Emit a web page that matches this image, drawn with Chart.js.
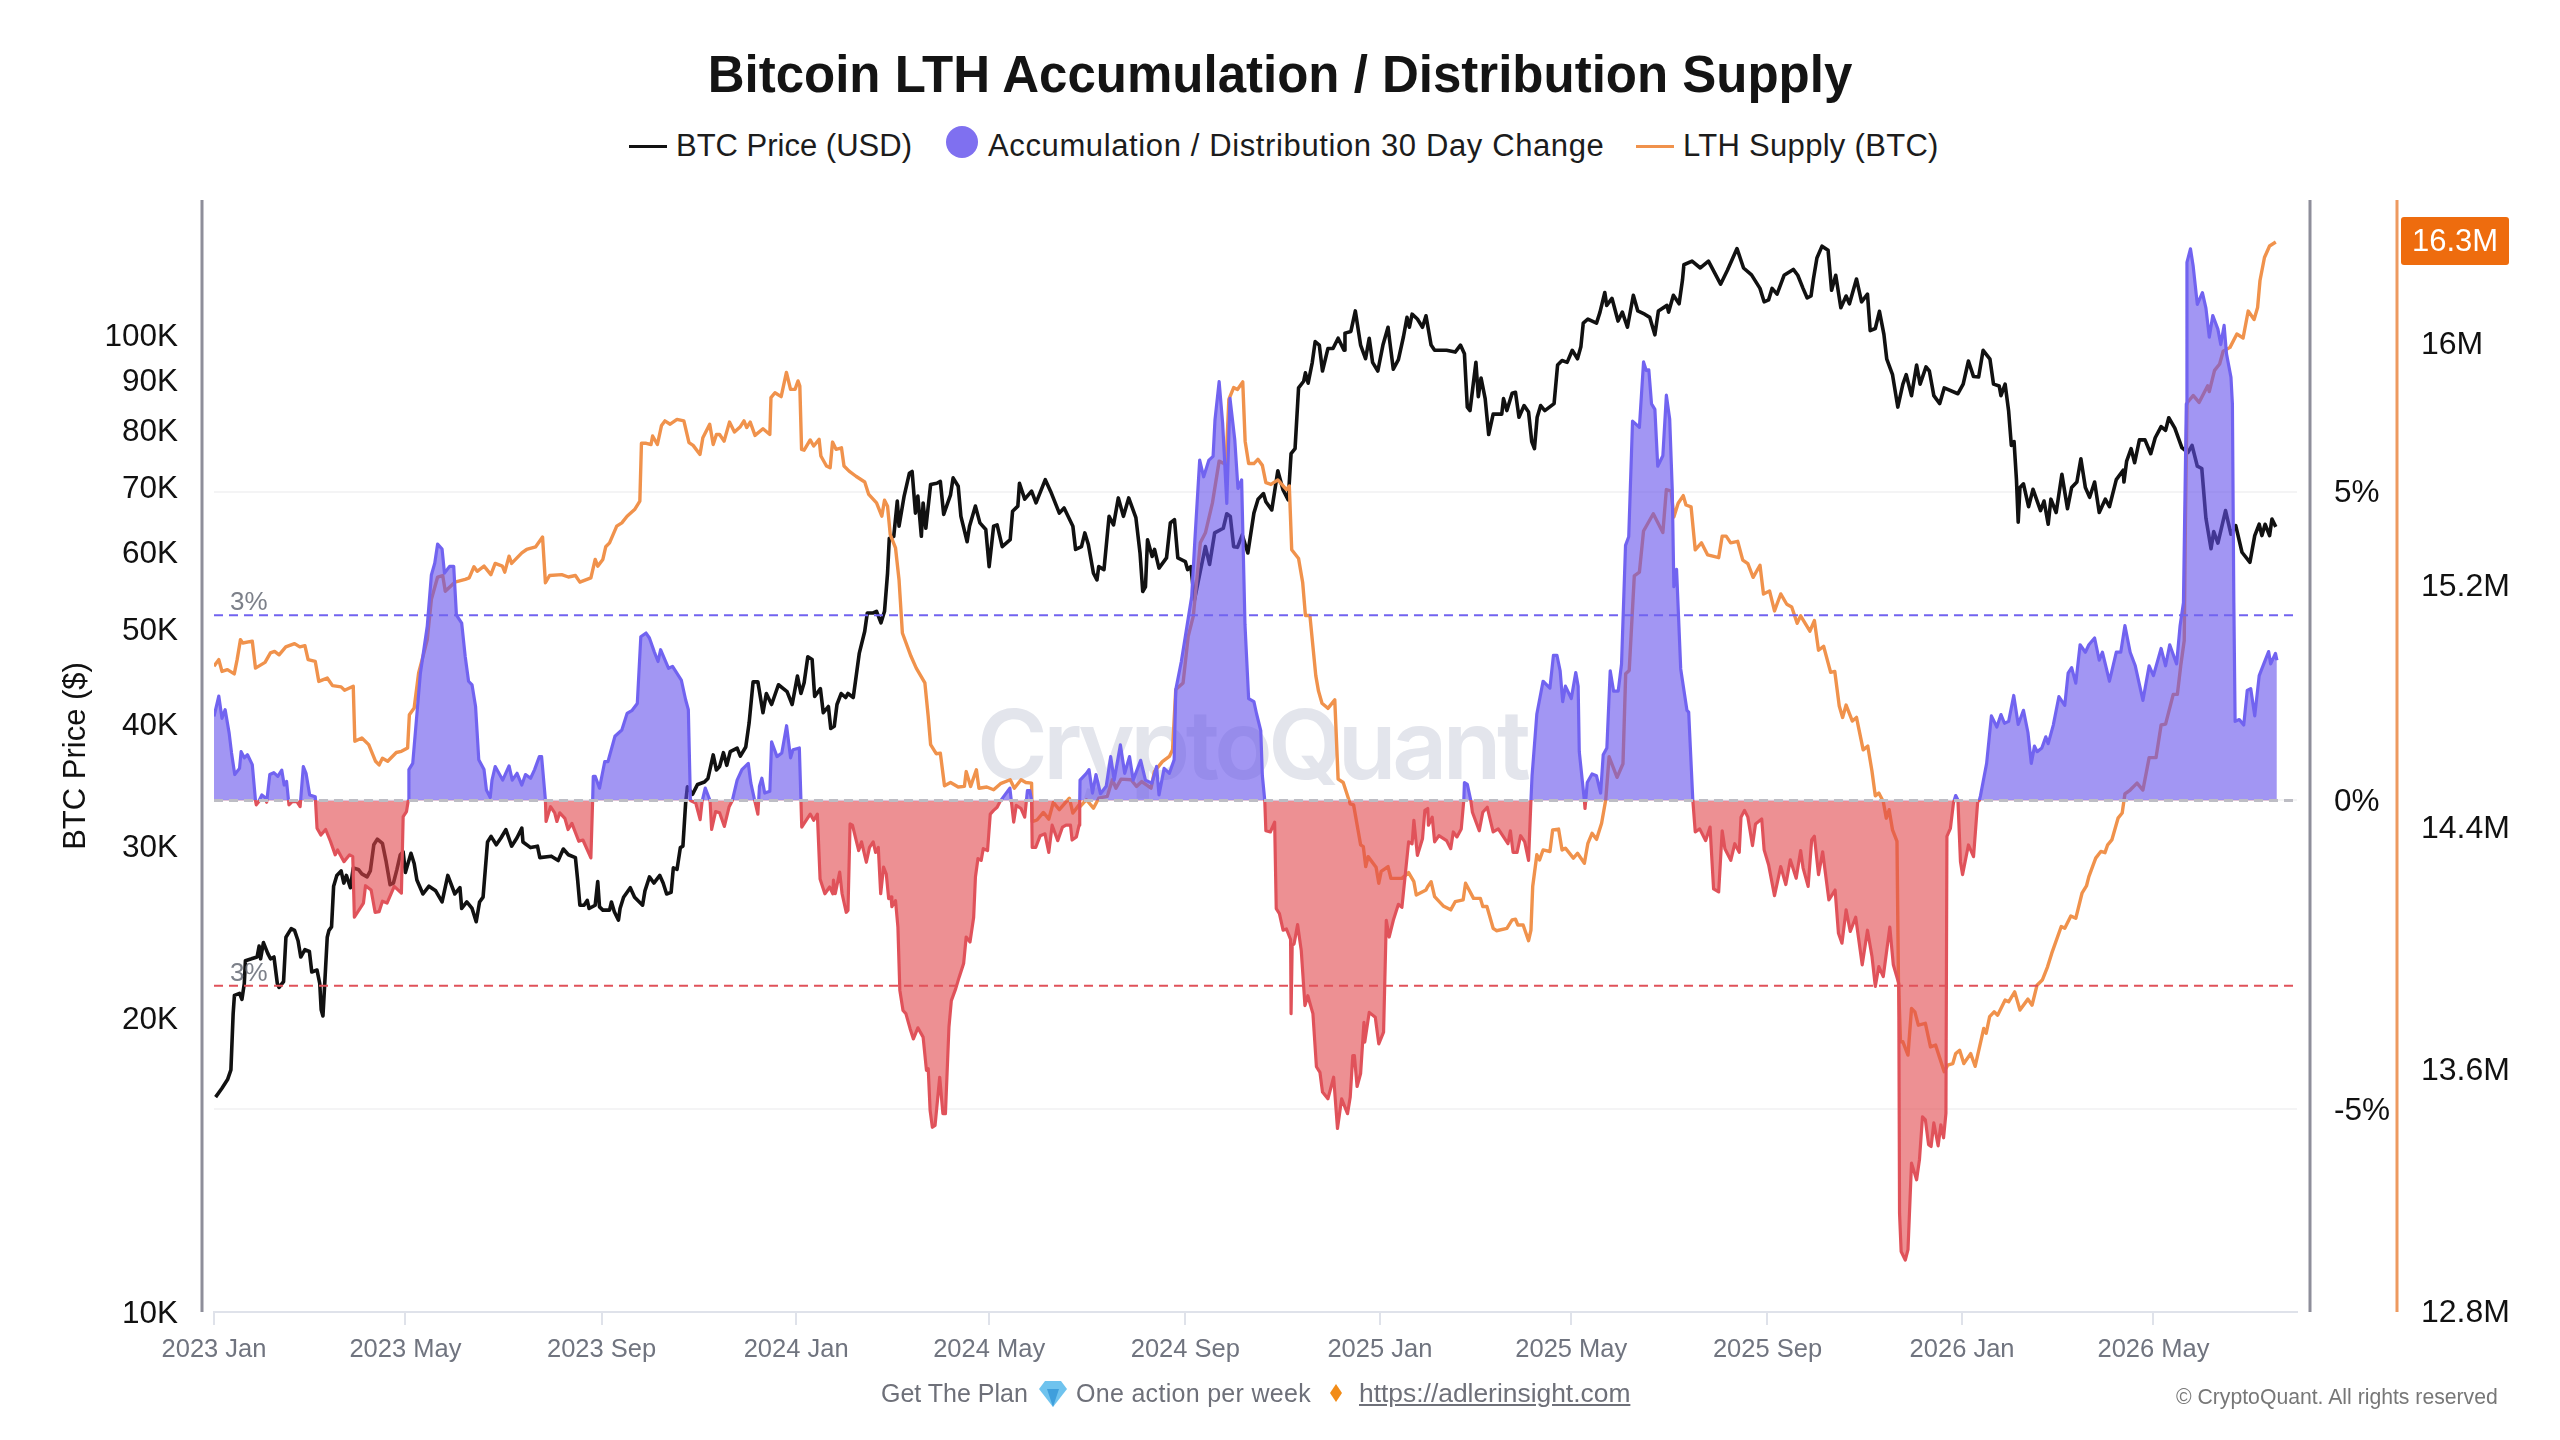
<!DOCTYPE html>
<html lang="en">

<head>
    <meta charset="utf-8">
    <title>Bitcoin LTH Accumulation / Distribution Supply</title>
    <style>
        body { margin: 0; background: #fff; font-family: "Liberation Sans", Arial, sans-serif; overflow: hidden; }
        #chart { position: absolute; left: 0; top: 0; }
        .txt { position: absolute; white-space: nowrap; }
        #title { left: 0; width: 2560px; text-align: center; top: 45px; font-size: 51px; line-height: 60px; font-weight: 700; color: #141414; }
        .legend { top: 127px; font-size: 31px; line-height: 38px; color: #1c1c1c; }
        .mark { position: absolute; height: 3px; }
        #watermark { left: 977px; top: 674px; font-family: Inter, sans-serif; font-size: 96px; line-height: 140px; font-weight: 600; color: #e3e5ec; letter-spacing: -4.5px; }
        .foot { top: 1378px; font-size: 25px; line-height: 30px; color: #6e7079; }
        #copy { left: 2176px; top: 1384px; font-size: 21.2px; line-height: 26px; color: #777; }
    </style>
    <script src="https://cdn.jsdelivr.net/npm/chart.js@4/dist/chart.umd.js"></script>
</head>

<body>
    <div class="txt" id="title">Bitcoin LTH Accumulation / Distribution Supply</div>

    <div class="mark" style="left:629px;top:145px;width:38px;background:#111"></div>
    <div class="txt legend" style="left:676px">BTC Price (USD)</div>
    <div class="mark" style="left:946px;top:126px;width:32px;height:32px;border-radius:50%;background:#7f70f0"></div>
    <div class="txt legend" style="left:988px;letter-spacing:.62px">Accumulation / Distribution 30 Day Change</div>
    <div class="mark" style="left:1636px;top:145px;width:38px;background:#f0924c"></div>
    <div class="txt legend" style="left:1683px;letter-spacing:.3px">LTH Supply (BTC)</div>

    <div class="txt" id="watermark">CryptoQuant</div>
    <canvas id="chart" width="2560" height="1440"></canvas>

    <div class="txt foot" style="left:881px">Get The Plan</div>
    <svg style="position:absolute;left:1038px;top:1378px" width="30" height="30" viewBox="0 0 30 30">
        <polygon points="7,3 23,3 29,11 15,29 1,11" fill="#6fc3ee"/>
        <polygon points="9,11 21,11 15,29" fill="#3f9fdc"/>
    </svg>
    <div class="txt foot" style="left:1076px;letter-spacing:.3px">One action per week</div>
    <svg style="position:absolute;left:1329px;top:1384px" width="14" height="18" viewBox="0 0 14 18">
        <polygon points="7,0 13,9 7,18 1,9" fill="#f28c18"/>
    </svg>
    <div class="txt foot" style="left:1359px;font-size:26.4px;text-decoration:underline">https://adlerinsight.com</div>
    <div class="txt" id="copy">© CryptoQuant. All rights reserved</div>

    <script>
        // x positions are days counted from 2023-01-01
        const xTickDays = [0, 120, 243, 365, 486, 609, 731, 851, 974, 1096, 1216];
        const xTickLabels = ['2023 Jan', '2023 May', '2023 Sep', '2024 Jan', '2024 May', '2024 Sep', '2025 Jan', '2025 May', '2025 Sep', '2026 Jan', '2026 May'];
        const xLastDay = 1306;

        const priceTicks = [10, 20, 30, 40, 50, 60, 70, 80, 90, 100];
        const pctTicks = [-5, 0, 5];
        const supplyTicks = [12.8, 13.6, 14.4, 15.2, 16];

        const upperBand = [3, 3];
        const lowerBand = [-3, -3];
        const zeroBand = [0, 0];

        // BTC price, thousands of USD
        const priceDays = [
            1, 5, 8.5, 10.6, 12, 12.8, 16, 17.5, 19, 19.7,
            23.5, 27, 28.3, 29.2, 31, 33.7, 35.4, 37.6, 39.7, 40.8,
            43.6, 45.1, 48.4, 50.5, 52.7, 54.4, 57, 59.8, 61.3, 64.6,
            66.3, 67.2, 68.3, 69.3, 71, 72.1, 73.7, 75, 77, 79.7,
            81.4, 83, 85.5, 87.3, 90.5, 92.7, 96, 98, 100.2, 102.4,
            105.6, 107.8, 110.4, 112.5, 114.7, 116.8, 118.6, 120, 123.5, 125.5,
            127.2, 131, 134.8, 139, 143, 146.6, 151, 154.2, 155.3, 158.5,
            161.8, 164.4, 166.5, 168.7, 171.5, 173.7, 177, 180, 183, 186.6,
            190, 193, 193.7, 198.5, 202.8, 204.3, 211.5, 215.8, 219, 222.2,
            226.6, 228, 229.4, 232, 234, 235.2, 239, 240.6, 241.7, 243.8,
            248, 249.2, 251, 253.6, 254.6, 256.8, 261, 263.7, 268.7, 270.2,
            273, 275.8, 279.5, 281.6, 283.8, 286.6, 288, 290.3, 292.4, 294,
            295.7, 296.8, 300, 303.2, 307.5, 309.7, 313, 315, 317, 319.4,
            321.5, 323.7, 328, 330, 333.4, 335.5, 338, 341, 344.2, 346.3,
            349.6, 353.9, 359.3, 362.5, 365.8, 368, 370, 372.3, 375, 376.6,
            380.2, 382, 385.2, 386.7, 388.9, 390.6, 393.2, 396, 397.5, 400.8,
            404.6, 408, 409.6, 413.3, 415.4, 418.2, 420.4, 422.3, 423.4, 426.2,
            428.4, 429.5, 432.7, 436, 437.7, 439.8, 441.3, 443.5, 444.6, 446.3,
            449.3, 453.2, 455.4, 457.5, 461.8, 463.4, 466.6, 468.3, 472.2, 473.7,
            477.4, 480.2, 483.9, 486, 488.8, 491, 494.2, 499.2, 500.7, 504,
            505, 508.3, 512.6, 515.4, 521.2, 524.5, 530, 533, 538.5, 540.2,
            543.9, 546, 548.2, 551.4, 553.6, 554.7, 558, 561.2, 564, 567,
            570.2, 573.5, 578, 580.6, 582.3, 584, 585.3, 588.2, 589.7, 592.5,
            597.2, 599.6, 602.2, 604.3, 609, 610.4, 612.5, 614.7, 618.4, 621.6,
            624.2, 627.4, 632.8, 635, 637.2, 639.3, 641.7, 644.7, 648.2, 652,
            654.6, 658, 659.5, 663.2, 667, 670.3, 673.5, 675.3, 677.8, 680,
            683.2, 684.3, 686, 688.6, 690.4, 693, 695, 698.4, 701.6, 704.8,
            708.5, 709.1, 712.8, 715.6, 718.9, 722, 724.3, 726.4, 729.7, 732.9,
            736.1, 737.2, 739.4, 742.6, 745.8, 748, 749.5, 751.2, 754.5, 757.7,
            759.9, 763.1, 765.3, 772.8, 778.2, 781.5, 784, 785.8, 787.5, 791.2,
            792.7, 794.4, 797, 799.2, 802, 807.4, 808.5, 810.6, 813.9, 816,
            818.2, 821.4, 824.2, 826.2, 827.9, 829.6, 831.8, 834.4, 840.2, 842.4,
            845.2, 848.4, 851.6, 854.9, 857, 858.5, 861.4, 866.8, 869, 872,
            873.2, 876.5, 880.3, 883, 886.2, 889.9, 892.7, 897, 900.2, 903.4,
            905.6, 911, 912, 915, 918.6, 920.7, 921.6, 926.7, 931.9, 937,
            944.6, 948.8, 954.9, 959, 964, 969.3, 971.9, 974.7, 976.9, 980,
            984.4, 990.2, 993, 996.3, 998.9, 1001.3, 1002.8, 1005, 1008.2, 1012,
            1014.2, 1016.8, 1020, 1023.3, 1025.4, 1029.8, 1033, 1036.7, 1038.4, 1041.6,
            1044.2, 1047, 1048.8, 1052.4, 1055.7, 1058.9, 1061, 1064.3, 1067.5, 1069.7,
            1073.4, 1075.5, 1078.3, 1082, 1084.8, 1093.4, 1096.7, 1100, 1103.2, 1106.4,
            1109.2, 1113.5, 1115.7, 1119.3, 1120.4, 1123, 1125.2, 1126.9, 1128.6, 1130.1,
            1131.2, 1132.3, 1134.5, 1137.7, 1140.5, 1145.2, 1147.4, 1150, 1151.7, 1155,
            1158.6, 1162.1, 1164.7, 1168, 1170.5, 1173.3, 1176, 1179.1, 1182, 1185.8,
            1188.4, 1192.7, 1197, 1197.5, 1199.2, 1202, 1204.2, 1207.2, 1210.7, 1214.3,
            1217.1, 1220.8, 1223.6, 1225.6, 1229.4, 1233.8, 1237.6, 1240.2, 1243.5, 1246.3,
            1248.9, 1252.1, 1253.8, 1256.4, 1261.2, 1264.6, 1267.6, 1271.5, 1276.5, 1279.5,
            1282.3, 1284, 1286, 1288.8, 1290.3, 1292.7
        ];
        const priceValues = [
            16.6, 16.95, 17.3, 17.7, 20.2, 21.1, 21.2, 20.9, 21.7, 22.9,
            23.0, 23.1, 23.7, 23.0, 23.9, 23.3, 23.0, 23.1, 21.7, 21.5,
            21.8, 24.2, 24.7, 24.6, 24.0, 23.1, 23.5, 23.4, 22.3, 22.4,
            21.7, 20.4, 20.1, 21.5, 24.2, 24.6, 24.8, 27.3, 28.0, 28.3,
            27.5, 28.0, 27.2, 28.5, 28.4, 28.1, 27.9, 28.3, 30.1, 30.5,
            30.2, 29.0, 27.4, 27.5, 28.4, 29.4, 29.6, 28.2, 29.5, 28.8,
            27.7, 26.8, 27.3, 27.0, 26.3, 28.0, 26.8, 27.2, 25.9, 26.3,
            25.9, 25.1, 26.3, 26.6, 30.3, 30.7, 30.1, 30.6, 31.2, 30.0,
            30.6, 31.3, 30.3, 29.9, 30.0, 29.2, 29.3, 29.0, 29.8, 29.4,
            29.2, 27.7, 26.1, 26.1, 26.4, 25.9, 26.1, 27.6, 26.0, 25.8,
            25.8, 26.3, 25.7, 25.2, 25.9, 26.6, 27.2, 26.6, 26.1, 27.0,
            27.9, 27.5, 28.0, 27.5, 26.8, 26.9, 28.5, 28.4, 29.9, 30.0,
            33.2, 34.5, 33.9, 34.7, 34.9, 35.2, 37.2, 35.9, 36.2, 37.4,
            36.3, 37.5, 37.8, 37.1, 37.9, 40.1, 44.2, 44.2, 41.1, 43.0,
            41.9, 43.9, 43.2, 41.9, 44.8, 43.0, 44.1, 46.9, 46.6, 42.7,
            43.5, 41.1, 41.7, 39.6, 39.8, 41.9, 43.0, 42.6, 43.0, 42.6,
            47.3, 49.8, 52.0, 52.0, 52.2, 50.8, 52.2, 57.1, 62.0, 62.3,
            67.7, 63.8, 68.5, 72.3, 72.6, 65.8, 68.5, 62.3, 67.4, 63.5,
            70.4, 70.6, 70.9, 65.6, 68.7, 71.5, 70.1, 65.3, 61.5, 63.8,
            66.9, 64.3, 63.3, 58.0, 63.8, 64.0, 60.8, 61.8, 66.1, 66.9,
            70.6, 68.0, 69.3, 67.4, 71.2, 69.3, 65.8, 66.6, 63.8, 60.4,
            60.8, 62.8, 61.1, 57.1, 56.2, 58.0, 57.6, 65.3, 64.0, 68.2,
            65.3, 68.2, 65.1, 59.9, 54.7, 55.3, 61.8, 59.4, 60.4, 57.8,
            59.2, 64.3, 64.8, 59.2, 58.7, 57.6, 58.0, 53.6, 57.4, 60.8,
            58.3, 62.8, 63.5, 65.7, 65.3, 60.8, 60.7, 62.5, 59.9, 65.8,
            68.0, 68.9, 67.6, 66.3, 72.7, 69.5, 67.9, 75.7, 76.6, 88.4,
            89.8, 91.6, 89.4, 93.9, 98.6, 97.8, 92.0, 97.0, 97.0, 99.4,
            96.6, 100.6, 101, 106, 97.8, 94.7, 99.4, 93.9, 92.0, 97.8,
            102, 98.6, 92.4, 94.5, 99.8, 104.4, 102, 105.2, 104, 102,
            104.8, 97.8, 96.6, 96.6, 96.2, 97.8, 95.8, 84.5, 83.8, 93.9,
            86.6, 90.5, 86.2, 79.2, 83.1, 83.1, 86.2, 83.8, 87.3, 87.5,
            82.5, 84.8, 83.5, 77.9, 76.6, 82.5, 84.8, 83.8, 85.2, 93.3,
            94.3, 93.9, 96.6, 94.7, 97.4, 103, 104, 103, 105.7, 110.7,
            107.4, 109.2, 103.5, 105.7, 102, 110, 106, 105.2, 104.4, 100.2,
            106, 107.4, 105.7, 110, 107.8, 114, 118.2, 119.2, 117.3, 119.2,
            112.9, 116.6, 122.8, 117.3, 115.4, 111.8, 108.3, 108.8, 111.8, 110.3,
            115.3, 116.9, 115.3, 111.8, 109.3, 109.8, 114.3, 120.1, 123.5, 122.3,
            111.3, 115.3, 106.8, 109.8, 107.8, 114.3, 108.3, 110.3, 101.2, 101.7,
            105.9, 100.3, 94.6, 91.2, 84.5, 89.2, 91.2, 86.8, 93.3, 89.2,
            92.9, 92.0, 86.8, 85.2, 88.4, 87.2, 89.2, 94.2, 90.8, 90.7,
            96.6, 94.6, 89.2, 88.8, 86.8, 89.2, 83.7, 77.2, 77.9, 71.2,
            64.4, 69.9, 70.5, 66.8, 69.6, 66.2, 67.7, 64.1, 68.0, 65.9,
            72.1, 66.5, 69.9, 70.8, 74.8, 69.9, 68.3, 70.8, 65.9, 68.0,
            66.8, 71.2, 72.8, 70.8, 74.4, 76.6, 74.1, 78.2, 78.2, 75.7,
            78.6, 80.7, 80.0, 82.4, 80.4, 76.8, 75.9, 77.2, 73.5, 73.1,
            65.0, 60.5, 63.0, 61.3, 66.2, 62.6, 63.9, 60.0, 58.6, 62.4,
            64.1, 62.4, 64.1, 62.4, 64.9, 63.7
        ];

        // LTH supply, millions of BTC
        const supplyDays = [
            0, 3, 5, 8.4, 12.7, 14.5, 16.6, 18, 24, 26,
            32, 35.4, 38, 40.8, 45, 50.5, 53.8, 57, 59, 63.5,
            65.7, 71, 74.3, 79.7, 81.9, 87.3, 88.3, 92.7, 97, 101.3,
            103.5, 105.6, 108.9, 114.3, 117.5, 121.4, 122.5, 125.5, 128.3, 130.5,
            133.7, 136.3, 140.2, 143.4, 145, 151, 157.5, 160, 163, 165,
            169.3, 173.6, 176.3, 180.8, 182.3, 185, 186.6, 193, 196, 201.7,
            206, 207.8, 210.4, 218, 222.2, 226.6, 229.4, 236.3, 239, 240.6,
            243.8, 245.6, 248, 252.5, 255.7, 259, 263.7, 267, 268, 271,
            274, 275, 278, 280.6, 282.7, 286, 290.3, 294.6, 297.8, 300.4,
            304.7, 306.5, 310.8, 313, 315, 317, 319.8, 323.2, 326.3, 330,
            332.3, 334, 336.2, 339.2, 344.2, 348.5, 349.2, 351.7, 355.6, 358.9,
            361.5, 364.3, 366.2, 367.3, 368.4, 370, 373.8, 376, 379.4, 380.5,
            384, 386.3, 387.8, 390, 393.4, 395, 398.2, 402.5, 408, 410.5,
            415.4, 418.7, 420.4, 422.3, 424, 427.3, 429.5, 431.6, 437, 440.3,
            445.7, 447.8, 449.3, 452.8, 455.4, 458, 461.8, 466.6, 470.5, 471.6,
            474.4, 478, 479.6, 484.5, 488.8, 493.1, 499.2, 501.8, 506, 509,
            512.6, 513, 516, 520, 523.4, 526.2, 530, 536.3, 538.5, 542.4,
            543, 547, 551.4, 554.7, 560, 563.3, 565.5, 568.7, 575, 578.4,
            581.7, 587.5, 589.6, 594.6, 599, 601, 603, 607.6, 610.8, 614,
            618.4, 621.6, 626, 630.2, 634.5, 636.3, 639.3, 641.7, 645, 646.5,
            648.7, 652, 654.5, 657.3, 659.5, 662.7, 667, 672.4, 674.2, 675.7,
            680, 682.6, 684.3, 687.1, 690.8, 692.5, 694.7, 698.4, 702.7, 704.8,
            708, 712.4, 714.5, 718.9, 720.6, 722.1, 723.6, 728.6, 730.3, 731.8,
            736.1, 737.9, 744.8, 749, 752.3, 753.8, 759.9, 761, 763.1, 765.3,
            770.7, 775.4, 778.2, 783.2, 784.7, 789.7, 794, 795.5, 798.1, 802,
            804.1, 810.6, 813.9, 816, 817.5, 820.8, 824.2, 825.7, 826.8, 829.4,
            831.1, 833.3, 837.6, 839.3, 843, 845.2, 847.3, 852.3, 854.9, 859.2,
            861.4, 864, 866.8, 870, 872.6, 874.7, 879.7, 883.4, 885.1, 887.3,
            890.5, 893.7, 896.3, 902.4, 908.4, 910.6, 913.6, 915.3, 918, 921.2,
            922.9, 926.1, 928.7, 932.6, 936.5, 943.4, 945.6, 948.1, 950.9, 955.3,
            958.5, 961.7, 965, 969.3, 971.5, 975.3, 978.4, 982.3, 986.1, 989.2,
            992.6, 994.8, 1000.6, 1003.4, 1006, 1009.2, 1013.6, 1016.2, 1019, 1021.1,
            1023.3, 1027.2, 1029.8, 1034, 1036.9, 1039.5, 1041.6, 1043.8, 1046.6, 1048.5,
            1050.3, 1052.4, 1055.2, 1056.1, 1057.4, 1058.9, 1062.1, 1064.3, 1066.4, 1068.6,
            1073, 1076.2, 1079.4, 1084.8, 1087, 1090.2, 1092, 1094.5, 1097.1, 1101.4,
            1104.2, 1109.6, 1111.1, 1113.3, 1116.1, 1118.3, 1123, 1125.2, 1129, 1132.3,
            1137.3, 1139.9, 1143, 1146.3, 1149.6, 1152.2, 1158.2, 1160.4, 1164.2, 1167.3,
            1171.2, 1174, 1175.5, 1179.8, 1183, 1185.6, 1187.3, 1189.9, 1193.8, 1196.4,
            1198.1, 1201.4, 1205.7, 1209.4, 1213.3, 1217.6, 1220.8, 1223.6, 1228.4, 1231,
            1233.1, 1235.3, 1236, 1237, 1240.9, 1244.6, 1250, 1251, 1254.3, 1257.5,
            1259.7, 1264, 1268.3, 1272.2, 1275.4, 1279.1, 1281.3, 1282.8, 1285.6, 1288.8,
            1292.7
        ];
        const supplyValues = [
            14.934, 14.956, 14.917, 14.923, 14.909, 14.956, 15.022, 15.011, 15.017, 14.928,
            14.947, 14.978, 14.983, 14.972, 14.998, 15.009, 14.998, 15.002, 14.956, 14.950,
            14.884, 14.895, 14.870, 14.866, 14.855, 14.868, 14.686, 14.697, 14.675, 14.620,
            14.608, 14.630, 14.620, 14.649, 14.653, 14.664, 14.774, 14.796, 14.912, 14.956,
            15.022, 15.155, 15.229, 15.234, 15.182, 15.212, 15.221, 15.226, 15.263, 15.248,
            15.265, 15.237, 15.274, 15.265, 15.245, 15.298, 15.274, 15.309, 15.320, 15.329,
            15.361, 15.210, 15.234, 15.237, 15.229, 15.234, 15.212, 15.226, 15.287, 15.265,
            15.287, 15.329, 15.342, 15.397, 15.408, 15.430, 15.452, 15.480, 15.671, 15.671,
            15.667, 15.695, 15.667, 15.730, 15.745, 15.734, 15.750, 15.745, 15.673, 15.664,
            15.634, 15.689, 15.734, 15.667, 15.700, 15.700, 15.678, 15.741, 15.708, 15.726,
            15.745, 15.723, 15.741, 15.697, 15.719, 15.700, 15.822, 15.838, 15.825, 15.905,
            15.849, 15.849, 15.877, 15.860, 15.651, 15.648, 15.682, 15.662, 15.684, 15.629,
            15.596, 15.590, 15.675, 15.651, 15.656, 15.596, 15.579, 15.562, 15.543, 15.502,
            15.474, 15.430, 15.483, 15.463, 15.369, 15.325, 15.220, 15.044, 14.967, 14.928,
            14.879, 14.768, 14.675, 14.645, 14.647, 14.539, 14.550, 14.535, 14.537, 14.586,
            14.537, 14.592, 14.531, 14.535, 14.526, 14.546, 14.559, 14.531, 14.559, 14.550,
            14.548, 14.421, 14.426, 14.451, 14.429, 14.484, 14.460, 14.498, 14.449, 14.476,
            14.470, 14.493, 14.465, 14.498, 14.504, 14.559, 14.531, 14.561, 14.559, 14.537,
            14.553, 14.531, 14.586, 14.619, 14.636, 14.658, 14.857, 14.879, 15.033, 15.100,
            15.342, 15.375, 15.474, 15.612, 15.601, 15.816, 15.855, 15.849, 15.874, 15.678,
            15.604, 15.604, 15.618, 15.598, 15.541, 15.535, 15.550, 15.518, 15.530, 15.319,
            15.290, 15.210, 15.102, 15.102, 14.903, 14.852, 14.812, 14.795, 14.823, 14.561,
            14.550, 14.479, 14.476, 14.344, 14.338, 14.272, 14.305, 14.270, 14.217, 14.256,
            14.272, 14.233, 14.233, 14.252, 14.222, 14.178, 14.195, 14.206, 14.222, 14.173,
            14.142, 14.129, 14.156, 14.162, 14.217, 14.167, 14.167, 14.140, 14.140, 14.068,
            14.060, 14.068, 14.096, 14.098, 14.079, 14.079, 14.027, 14.062, 14.206, 14.311,
            14.294, 14.327, 14.322, 14.393, 14.396, 14.327, 14.333, 14.300, 14.316, 14.283,
            14.349, 14.382, 14.362, 14.415, 14.493, 14.635, 14.567, 14.612, 14.909, 14.920,
            15.233, 15.245, 15.381, 15.438, 15.376, 15.518, 15.513, 15.427, 15.473, 15.498,
            15.467, 15.461, 15.319, 15.342, 15.302, 15.293, 15.364, 15.364, 15.342, 15.347,
            15.285, 15.273, 15.228, 15.268, 15.173, 15.183, 15.117, 15.173, 15.139, 15.130,
            15.076, 15.101, 15.050, 15.085, 14.987, 15.000, 14.914, 14.917, 14.803, 14.765,
            14.806, 14.753, 14.765, 14.658, 14.670, 14.588, 14.506, 14.515, 14.487, 14.432,
            14.460, 14.393, 14.355, 13.897, 13.693, 13.693, 13.649, 13.803, 13.792, 13.748,
            13.754, 13.676, 13.682, 13.594, 13.616, 13.621, 13.654, 13.665, 13.621, 13.654,
            13.612, 13.737, 13.721, 13.776, 13.792, 13.781, 13.831, 13.825, 13.858, 13.798,
            13.834, 13.814, 13.880, 13.897, 13.941, 13.985, 14.074, 14.068, 14.109, 14.101,
            14.184, 14.208, 14.239, 14.300, 14.322, 14.318, 14.344, 14.360, 14.432, 14.449,
            14.512, 14.525, 14.548, 14.525, 14.632, 14.632, 14.740, 14.743, 14.841, 14.841,
            14.936, 15.019, 15.399, 15.804, 15.829, 15.806, 15.861, 15.842, 15.912, 15.933,
            15.975, 15.988, 16.032, 16.019, 16.108, 16.080, 16.120, 16.209, 16.285, 16.323,
            16.336
        ];

        // Accumulation / distribution 30 day change, percent
        const accumDays = [
            0, 3, 5, 7, 9.5, 11, 13, 16, 17, 19, 21, 24,
            26, 26.5, 28, 30, 32, 33, 35, 37.5, 40, 42.5, 44, 45.5,
            47, 49, 52, 54, 56, 57.7, 60, 63.5, 64.6, 67, 70, 73,
            76, 77.5, 81.5, 85, 87, 88, 93.7, 95, 98.5, 101, 103.5, 105.6,
            108.5, 113, 117.5, 118.6, 120.7, 121.8, 122.2, 124.6, 129.4, 133.7, 136.3, 138.4,
            140.2, 143, 144.5, 147.7, 150.3, 152, 155.3, 157.5, 159.6, 161.8, 164, 166,
            169.3, 170.8, 173.2, 174.3, 176.3, 181, 185, 187, 190, 193, 195.3, 198.5,
            201, 204, 205.4, 207.8, 208.2, 211, 213.6, 215, 216.8, 220, 222, 224.4,
            228.7, 231.3, 236.3, 237.4, 237.8, 239, 241.7, 245, 247, 251.4, 255.7, 259,
            262.2, 265.4, 267.6, 270.9, 273, 276, 278.4, 280, 285, 287.5, 293, 295.7,
            297.4, 298.7, 302, 304.8, 306, 308, 311, 312, 314.5, 317, 320, 323,
            325, 328, 331, 335, 336.6, 339, 341, 342, 343.5, 345.3, 348.5, 349.6,
            353, 356, 359, 361.5, 363, 367, 368, 368.5, 373.8, 376, 378.3, 380,
            383, 386, 388, 388.4, 389.5, 392.3, 393.8, 396.4, 397.5, 398.8, 400.3, 404.2,
            406, 409, 411, 413.3, 414.8, 416.5, 418, 419.8, 421.5, 423, 424.5, 425,
            427.3, 428.8, 430, 432, 433.8, 436.4, 438.5, 441.3, 444.6, 446.7, 447.8, 449,
            450.4, 452.1, 455, 457, 458.6, 460.8, 462.3, 465, 467.2, 470, 471.6, 474,
            476.3, 477.4, 479, 481, 482.3, 485, 486.7, 488.8, 491, 493, 499, 501.4,
            503, 506, 508.3, 510, 511.5, 512.6, 513, 515.2, 518, 521, 523.4, 525.5,
            529, 532, 534.2, 537, 538, 540.7, 542.4, 542.8, 543, 547, 548.6, 550.8,
            553, 555.8, 559.4, 562.2, 564.4, 568.3, 571, 574, 576.3, 581, 584, 588,
            591, 592.5, 595.7, 599, 602, 603, 606.5, 613, 615, 618, 620.5, 623.8,
            626.4, 627.6, 630.2, 632.4, 635, 637, 640, 642, 644.3, 646.4, 648.7, 652,
            653.7, 656.3, 657.3, 658.8, 659.5, 662.3, 665, 666, 668, 670.3, 672.4, 675,
            675.3, 676, 677.2, 679.4, 681.7, 684, 685.8, 689, 691.2, 693.4, 695, 698.4,
            702, 704.4, 707, 710.7, 712.4, 714, 715, 716.7, 718.9, 721, 721.5, 724.3,
            728.1, 730.3, 733.3, 735, 736.8, 739.4, 742.6, 744.8, 749, 751.2, 752.3, 754.5,
            757.7, 759.2, 761, 761.4, 763.8, 765.3, 768, 772.8, 775.4, 777, 779.3, 782,
            783.6, 784, 785.8, 788, 789, 793.3, 795.5, 798.3, 802, 805.2, 808.5, 811.3,
            812.8, 814.5, 817, 819.2, 821.8, 824.2, 825.7, 826.4, 829.4, 833.3, 837.6, 839.8,
            842, 844, 845.6, 847.3, 851, 853.8, 855.3, 856, 859.2, 859.6, 861, 864,
            866.8, 869.4, 871, 873.3, 875.4, 877.5, 880.4, 882.5, 885, 887, 889.4, 893.7,
            896.3, 898, 899.6, 901.3, 903.4, 905.2, 908.4, 910.6, 912.7, 914.3, 915.3, 917,
            919.6, 923.5, 924.6, 927.2, 928.7, 931.5, 935.2, 938, 940.2, 943.4, 945.6, 947.3,
            951, 953.5, 956.3, 957.4, 959.6, 961.7, 964.6, 966.5, 970.4, 971.9, 974.7, 978.4,
            982.3, 985.5, 988.3, 992, 994.8, 996.3, 999.5, 1001.7, 1003.4, 1006, 1008.6, 1012.5,
            1016.4, 1018.5, 1020.7, 1023.3, 1025.9, 1029.3, 1033.4, 1036.7, 1039.5, 1041.6, 1043.8, 1046.6,
            1050.7, 1052.9, 1056.3, 1056.8, 1057.8, 1060.4, 1062.1, 1064.3, 1067.5, 1069.3, 1071.2, 1073,
            1075, 1076.6, 1078.3, 1081, 1082.7, 1084.4, 1085.9, 1086.5, 1088.7, 1090.6, 1092, 1093.4,
            1095, 1096.3, 1100, 1103.2, 1105.8, 1106.8, 1107.5, 1111.4, 1114.4, 1117.8, 1120.4, 1122.6,
            1125.2, 1128.4, 1131.2, 1134.5, 1137.3, 1139.4, 1141.4, 1143.1, 1146, 1148.5, 1150, 1153.2,
            1156.7, 1160.4, 1162.5, 1164.7, 1167.3, 1170, 1173.3, 1175.5, 1179.1, 1182, 1184, 1188.4,
            1192.7, 1195.5, 1198.1, 1201.4, 1204.6, 1209.4, 1213.3, 1216, 1220.8, 1223.6, 1226.2, 1230.5,
            1232.7, 1234.8, 1236.6, 1237, 1239.2, 1240.9, 1243.5, 1246.7, 1248.9, 1251, 1253.2, 1256.4,
            1258.2, 1260.3, 1261.8, 1264.6, 1265.5, 1266.4, 1267.2, 1269.8, 1272.6, 1274.8, 1277, 1279.5,
            1282.3, 1285.6, 1288.2, 1289.5, 1292.5, 1293.4
        ];
        const accumValues = [
            1.36, 1.69, 1.33, 1.47, 1.09, .77, .42, .52, .79, .69, .74, .58,
            0, -.07, -.02, .09, .05, -.03, .42, .45, .39, .49, .25, .31,
            -.07, -.02, -.02, -.10, .55, .44, .09, .06, -.45, -.56, -.47, -.66,
            -.88, -.80, -.99, -.88, -.91, -1.89, -1.66, -1.38, -1.45, -1.81, -1.80, -1.63,
            -1.66, -1.39, -1.50, -.26, -.18, 0, .50, .60, 2.06, 2.82, 3.65, 3.84,
            4.15, 4.07, 3.68, 3.79, 3.79, 3.0, 2.87, 2.33, 1.93, 1.87, 1.52, .66,
            .50, .17, .05, .33, .55, .33, .56, .33, .44, .25, .42, .36,
            .50, .71, .71, 0, -.34, -.10, -.20, -.34, -.20, -.29, -.47, -.37,
            -.66, -.64, -.93, 0, .39, .39, .20, .63, .63, 1.04, 1.14, 1.41,
            1.46, 1.57, 2.65, 2.71, 2.63, 2.41, 2.25, 2.44, 2.14, 2.17, 1.95, 1.63,
            1.47, 0, -.04, -.31, -.02, .20, 0, -.47, -.18, -.20, -.42, -.10,
            0, .33, .50, .60, .28, 0, -.22, .23, .36, .12, .15, .95,
            .71, .77, 1.21, .69, .82, .85, 0, -.43, -.22, -.32, -.22, -1.27,
            -1.51, -1.40, -1.51, -1.29, -1.51, -1.16, -1.51, -1.81, -1.78, -.38, -.40, -.81,
            -.67, -1.0, -.76, -.67, -.84, -.76, -1.51, -1.08, -1.19, -1.59, -1.56, -1.72,
            -1.62, -2.05, -3.07, -3.40, -3.45, -3.69, -3.86, -3.68, -3.83, -4.37, -4.34, -5.02,
            -5.29, -5.26, -4.48, -5.07, -5.07, -3.67, -3.24, -3.05, -2.86, -2.64, -2.21, -2.29,
            -1.89, -1.24, -.94, -.97, -.78, -.81, -.22, -.16, -.11, -.01, .20, -.35,
            -.08, -.13, -.27, .16, .16, 0, -.76, -.76, -.57, -.54, -.84, -.40,
            -.65, -.43, -.40, -.40, -.64, -.59, -.40, 0, .33, .44, .50, .12,
            .42, .11, .23, .71, .33, .90, .44, .71, .33, .65, .33, .28,
            .55, .09, .52, .44, .66, 1.79, 2.25, 3.30, 4.22, 5.51, 5.24, 5.51,
            5.57, 6.16, 6.78, 6.11, 4.81, 6.51, 5.84, 5.05, 5.19, 2.85, 1.65, 1.60,
            1.40, 1.13, .40, 0, -.49, -.51, -.35, -1.75, -1.83, -2.10, -2.08, -2.25,
            -3.45, -2.35, -2.32, -2.01, -2.43, -3.32, -3.16, -3.45, -4.31, -4.40, -4.72, -4.83,
            -4.48, -5.31, -4.83, -5.07, -4.80, -4.13, -4.13, -4.63, -4.42, -3.59, -3.91, -3.43,
            -3.51, -3.94, -3.75, -1.94, -2.21, -1.94, -1.68, -1.73, -.67, -.70, -.32, -.89,
            -.62, -.16, -.13, -.40, -.27, -.67, -.57, -.65, -.78, -.51, -.59, -.46,
            0, .29, .26, 0, -.19, -.49, -.19, -.11, -.51, -.46, -.59, -.70,
            -.49, -.84, -.84, -.57, -.67, -.97, 0, .40, 1.40, 1.93, 1.82, 2.35,
            2.35, 2.10, 1.60, 1.85, 1.65, 2.07, 1.85, .79, 0, -.13, .29, .43,
            .40, .12, .74, .85, 2.10, 1.77, 1.77, 2.21, 4.13, 4.27, 6.14, 6.04,
            7.10, 6.96, 6.97, 6.42, 6.33, 5.41, 5.58, 6.56, 6.17, 5.03, 3.46, 3.74,
            2.13, 1.46, 1.43, 0, -.51, -.46, -.65, -.43, -1.43, -1.48, -.49, -.78,
            -.97, -.70, -.84, -.27, -.16, -.27, -.73, -.38, -.30, -.80, -1.04, -1.54,
            -1.07, -1.36, -.96, -1.26, -.81, -1.09, -1.39, -.64, -.58, -1.20, -.83, -1.61,
            -1.45, -2.15, -2.31, -1.77, -2.12, -1.89, -2.66, -2.10, -2.52, -3.01, -2.69, -2.85,
            -2.05, -2.66, -2.96, -6.68, -7.30, -7.44, -7.27, -5.87, -6.14, -5.81, -5.12, -5.17,
            -5.57, -5.60, -5.22, -5.59, -5.25, -5.46, -5.06, -.58, -.45, -.04, .08, .01,
            -.99, -1.20, -.72, -.91, -.02, 0, .07, .60, 1.37, 1.19, 1.39, 1.25,
            1.28, 1.70, 1.23, 1.46, 1.10, .60, .88, .79, .85, 1.03, .92, 1.22,
            1.68, 1.54, 2.06, 2.15, 1.90, 2.52, 2.40, 2.52, 2.63, 2.27, 2.40, 1.93,
            2.40, 2.40, 2.83, 2.40, 2.18, 1.62, 2.18, 2.02, 2.46, 2.18, 2.52, 2.21,
            2.83, 3.20, 6.42, 8.71, 8.93, 8.65, 8.03, 8.22, 7.97, 7.50, 7.85, 7.63,
            7.38, 7.69, 7.23, 6.85, 6.42, 3.20, 1.28, 1.31, 1.22, 1.78, 1.81, 1.37,
            2.02, 2.24, 2.41, 2.21, 2.38, 2.27
        ];

        const LINE_PURPLE = '#7163f0';
        const LINE_RED = '#e0525a';
        const AXIS_GREY = '#8e8e9a';
        const AXIS_ORANGE = '#ee9a60';

        Chart.defaults.font.family = '"Liberation Sans", Arial, sans-serif';
        Chart.defaults.font.size = 31.5;

        function zip(days, values) {
            if (days.length !== values.length) throw new Error('series length mismatch ' + days.length + ' / ' + values.length);
            return days.map((d, i) => ({ x: d, y: values[i] }));
        }

        // hard colour change of the area outline where it crosses 0%
        function signOutline(context) {
            const { chart } = context;
            const area = chart.chartArea;
            if (!area) return LINE_PURPLE;
            const zeroY = chart.scales.pct.getPixelForValue(0);
            const stop = (zeroY - area.top) / (area.bottom - area.top);
            const g = chart.ctx.createLinearGradient(0, area.top, 0, area.bottom);
            g.addColorStop(0, LINE_PURPLE);
            g.addColorStop(stop, LINE_PURPLE);
            g.addColorStop(stop, LINE_RED);
            g.addColorStop(1, LINE_RED);
            return g;
        }

        function bandLine(values, color, width) {
            return {
                data: zip([0, xLastDay], values),
                yAxisID: 'pct',
                borderColor: color,
                borderWidth: width,
                borderDash: [9, 6],
                pointRadius: 0,
                order: 1
            };
        }

        // axis rails, band captions and the last value badge
        const extras = {
            id: 'extras',
            afterDraw(chart) {
                const { ctx, chartArea: area, scales } = chart;
                ctx.save();

                ctx.lineWidth = 3;
                [[area.left - 12, AXIS_GREY], [area.right + 13, AXIS_GREY], [scales.supply.left, AXIS_ORANGE]].forEach(([x, color]) => {
                    ctx.strokeStyle = color;
                    ctx.beginPath();
                    ctx.moveTo(x, area.top);
                    ctx.lineTo(x, area.bottom);
                    ctx.stroke();
                });

                ctx.font = '26px "Liberation Sans", Arial, sans-serif';
                ctx.fillStyle = 'rgba(110, 114, 124, 0.9)';
                ctx.textBaseline = 'alphabetic';
                ctx.fillText(upperBand[0] + '%', area.left + 16, scales.pct.getPixelForValue(upperBand[0]) - 5);
                ctx.fillText(Math.abs(lowerBand[0]) + '%', area.left + 16, scales.pct.getPixelForValue(lowerBand[0]) - 5);

                const last = supplyValues[supplyValues.length - 1];
                const y = scales.supply.getPixelForValue(last);
                const x = scales.supply.left + 4;
                ctx.fillStyle = '#ee6c0e';
                ctx.beginPath();
                ctx.roundRect(x, y - 25, 108, 48, 3);
                ctx.fill();
                ctx.fillStyle = '#fff';
                ctx.font = '31px "Liberation Sans", Arial, sans-serif';
                ctx.textAlign = 'center';
                ctx.textBaseline = 'middle';
                ctx.fillText(last.toFixed(1) + 'M', x + 54, y);

                ctx.restore();
            }
        };

        const ctx = document.getElementById('chart').getContext('2d');
        const myChart = new Chart(ctx, {
            type: 'line',
            data: {
                datasets: [
                    {
                        label: 'BTC Price (USD)',
                        data: zip(priceDays, priceValues),
                        yAxisID: 'price',
                        borderColor: '#111',
                        borderWidth: 3.6,
                        borderJoinStyle: 'round',
                        pointRadius: 0,
                        order: 4
                    },
                    {
                        label: 'LTH Supply (BTC)',
                        data: zip(supplyDays, supplyValues),
                        yAxisID: 'supply',
                        borderColor: '#f0924c',
                        borderWidth: 3.4,
                        borderJoinStyle: 'round',
                        pointRadius: 0,
                        order: 3
                    },
                    {
                        label: 'Accumulation / Distribution 30 Day Change',
                        data: zip(accumDays, accumValues),
                        yAxisID: 'pct',
                        borderColor: signOutline,
                        borderWidth: 3.2,
                        borderJoinStyle: 'round',
                        pointRadius: 0,
                        fill: {
                            target: { value: 0 },
                            above: 'rgba(100, 80, 235, 0.6)',
                            below: 'rgba(225, 70, 75, 0.6)'
                        },
                        order: 2
                    },
                    bandLine(zeroBand, '#bdbdc4', 3),
                    bandLine(upperBand, LINE_PURPLE, 2),
                    bandLine(lowerBand, LINE_RED, 2)
                ]
            },
            options: {
                responsive: false,
                animation: false,
                layout: { padding: { top: 200, left: 0, right: 0, bottom: 0 } },
                plugins: { legend: { display: false }, tooltip: { enabled: false } },
                scales: {
                    x: {
                        type: 'linear',
                        min: 0,
                        max: xLastDay,
                        afterBuildTicks: scale => { scale.ticks = xTickDays.map(v => ({ value: v })); },
                        afterFit: scale => { scale.height = 128; },
                        grid: { drawOnChartArea: false, color: '#dfe2ea', lineWidth: 2, tickLength: 13 },
                        border: { color: '#dfe2ea', width: 2 },
                        ticks: {
                            autoSkip: false,
                            maxRotation: 0,
                            padding: 10,
                            color: '#70747f',
                            font: { size: 25.5 },
                            callback: value => xTickLabels[xTickDays.indexOf(value)]
                        }
                    },
                    price: {
                        type: 'logarithmic',
                        position: 'left',
                        min: 10,
                        max: 137.7,
                        afterBuildTicks: scale => { scale.ticks = priceTicks.map(v => ({ value: v })); },
                        afterFit: scale => { scale.width = 214; },
                        grid: { display: false },
                        border: { display: false },
                        title: { display: true, text: 'BTC Price ($)', color: '#111', font: { size: 31 }, padding: { top: 58, bottom: 0 } },
                        ticks: { autoSkip: false, padding: 28, labelOffset: 2, color: '#111', callback: value => value + 'K' }
                    },
                    pct: {
                        position: 'right',
                        min: -8.28,
                        max: 9.72,
                        afterBuildTicks: scale => { scale.ticks = pctTicks.map(v => ({ value: v })); },
                        afterFit: scale => { scale.width = 100; },
                        grid: { color: '#f4f4f5', lineWidth: 2, drawTicks: false },
                        border: { display: false },
                        ticks: { autoSkip: false, padding: 37, labelOffset: 2, color: '#111', callback: value => value + '%' }
                    },
                    supply: {
                        position: 'right',
                        min: 12.8,
                        max: 16.475,
                        afterBuildTicks: scale => { scale.ticks = supplyTicks.map(v => ({ value: v })); },
                        afterFit: scale => { scale.width = 163; },
                        grid: { display: false },
                        border: { display: false },
                        ticks: { autoSkip: false, padding: 16, labelOffset: 1, color: '#111', font: { size: 32 }, callback: value => value + 'M' }
                    }
                }
            },
            plugins: [extras]
        });
    </script>
</body>

</html>
